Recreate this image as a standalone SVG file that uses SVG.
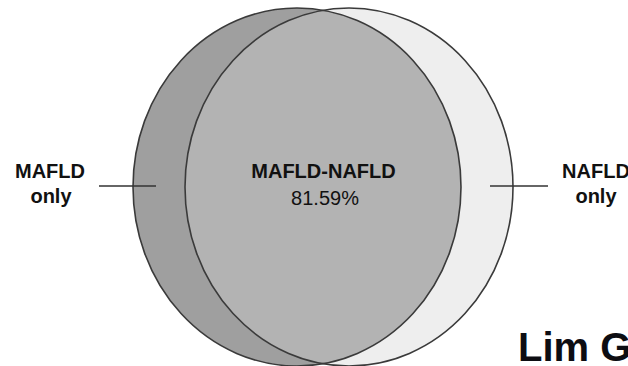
<svg xmlns="http://www.w3.org/2000/svg" width="628" height="366" viewBox="0 0 628 366">
<style>
.lbl{font-family:"Liberation Sans",Arial,sans-serif;font-size:20px;font-weight:bold;fill:#111;text-anchor:middle}
.val{font-family:"Liberation Sans",Arial,sans-serif;font-size:20px;fill:#111;text-anchor:middle}
.edge{fill:none;stroke:#3a3a3a;stroke-width:1.6}
.lead{stroke:#333;stroke-width:1.4}
</style>
<defs>
<clipPath id="clipL"><ellipse cx="297" cy="187" rx="164" ry="179"/></clipPath>
</defs>
<rect width="628" height="366" fill="#fff"/>
<g id="mafld">
<ellipse cx="297" cy="187" rx="164" ry="179" fill="#9f9f9f"/>
</g>
<g id="nafld">
<ellipse cx="349" cy="187" rx="164" ry="179" fill="#eeeeee"/>
</g>
<g id="overlap">
<ellipse cx="349" cy="187" rx="164" ry="179" fill="#b3b3b3" clip-path="url(#clipL)"/>
<ellipse class="edge" cx="297" cy="187" rx="164" ry="179"/>
<ellipse class="edge" cx="349" cy="187" rx="164" ry="179"/>
<text class="lbl" x="323.5" y="178">MAFLD-NAFLD</text>
<text class="val" x="325" y="205">81.59%</text>
</g>
<g id="connectors">
<line class="lead" x1="99" y1="186" x2="156" y2="186"/>
<line class="lead" x1="490" y1="186" x2="548" y2="186"/>
</g>
<g id="label-mafld-only">
<text class="lbl" x="50" y="178">MAFLD</text>
<text class="lbl" x="51" y="203">only</text>
</g>
<g id="label-nafld-only">
<text class="lbl" x="596" y="178">NAFLD</text>
<text class="lbl" x="596" y="203">only</text>
</g>
<text x="518" y="361" font-family="Liberation Sans,Arial,sans-serif" font-size="40" font-weight="bold" fill="#0d0d12">Lim G</text>
</svg>
